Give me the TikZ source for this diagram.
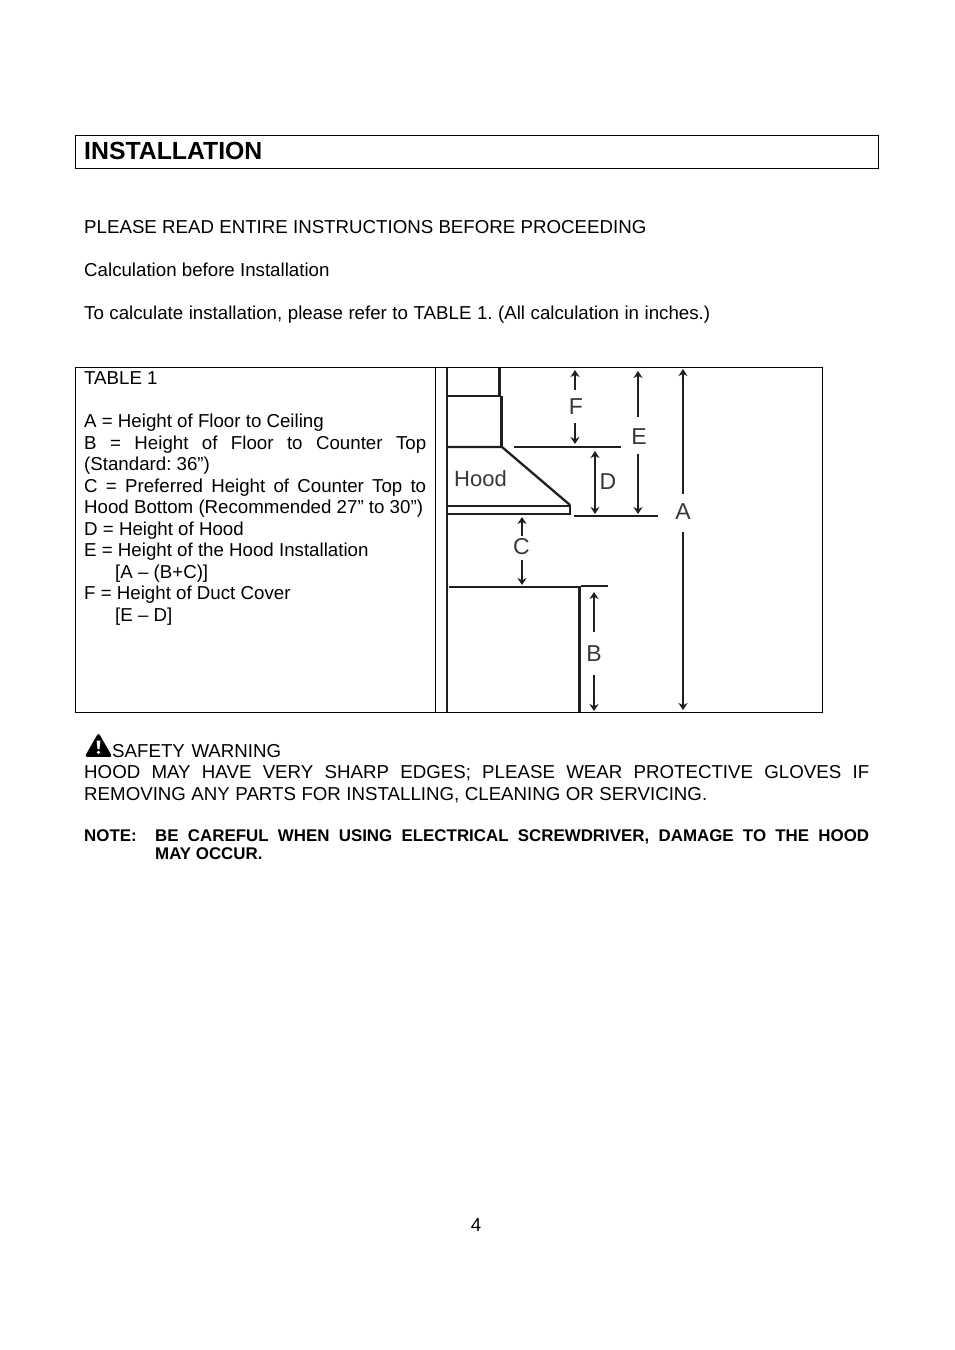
\documentclass[tikz,border=0pt]{standalone}
\usepackage{fontspec}
\setmainfont{Liberation Sans}
\usetikzlibrary{arrows.meta}
\tikzset{
  txt/.style={anchor=base west,inner sep=0pt,font=\fontsize{18.7}{21.4}\selectfont},
  notetxt/.style={anchor=base west,inner sep=0pt,font=\fontsize{16.9}{18}\selectfont\bfseries},
  frame/.style={draw=black,line width=1pt},
  wall/.style={draw=black!88,line width=2.3pt},
  thin wall/.style={draw=black!88,line width=2pt},
  lab/.style={inner sep=0pt,text=black!78,font=\fontsize{23}{23}\selectfont},
  dimup/.style={draw=black!88,line width=1.8pt,{Stealth[length=7pt,width=9pt]}-},
  dimdn/.style={draw=black!88,line width=1.8pt,-{Stealth[length=7pt,width=9pt]}},
}
\newcommand{\jl}[2]{\makebox[#1pt][s]{#2}}
\frenchspacing
\begin{document}
\begin{tikzpicture}[x=1pt,y=-1pt]
\useasboundingbox (0,0) rectangle (954,1350);
\fill[white] (0,0) rectangle (954,1350);
% heading
\draw[frame] (75.5,135.5) rectangle (878.5,168.5);
\node[anchor=base west,inner sep=0pt,font=\fontsize{24.8}{28}\selectfont\bfseries] (title) at (84,159) {INSTALLATION};
\node[txt] (p1) at (84,233) {PLEASE READ ENTIRE INSTRUCTIONS BEFORE PROCEEDING};
\node[txt] (p2) at (84,276) {Calculation before Installation};
\node[txt] (p3) at (84,319) {\jl{626}{To calculate installation, please refer to TABLE 1. (All calculation in inches.)}};
% table
\draw[frame] (75.5,367.5) rectangle (822.5,712.5);
\draw[frame] (435.5,367.5) -- (435.5,712.5);
\node[txt] (t0) at (84,384.5) {TABLE 1};
\node[txt] (t1) at (84,427) {A = Height of Floor to Ceiling};
\node[txt] (t2) at (84,449) {\jl{342}{B = Height of Floor to Counter Top}};
\node[txt] (t3) at (84,470) {(Standard: 36”)};
\node[txt] (t4) at (84,492) {\jl{342}{C = Preferred Height of Counter Top to}};
\node[txt] (t5) at (84,513) {Hood Bottom (Recommended 27” to 30”)};
\node[txt] (t6) at (84,535) {D = Height of Hood};
\node[txt] (t7) at (84,556) {E = Height of the Hood Installation};
\node[txt] (t8) at (115,578) {[A – (B+C)]};
\node[txt] (t9) at (84,599) {F = Height of Duct Cover};
\node[txt] (t10) at (115,621) {[E – D]};
% hood drawing
\draw[wall] (447,368) -- (447,712);
\draw[wall] (499.5,368) -- (499.5,396) (447,396) -- (499.5,396);
\draw[wall] (501.5,396) -- (501.5,447);
\draw[wall] (447,447) -- (502,447) -- (570,505);
\draw[wall] (447,506) -- (570,506) -- (570,514) -- (447,514);
\draw[wall] (449,587) -- (579.5,587) -- (579.5,712);
\draw[thin wall] (514,446.5) -- (621,446.5);
\draw[thin wall] (574,515.5) -- (658,515.5);
\draw[thin wall] (581,586) -- (608,586);
\node[lab,anchor=base west,font=\fontsize{22}{22}\selectfont] (hood) at (454,486) {Hood};
% dimension labels and their ends
\node[lab] (F) at (576,406.5) {F};
\node[lab] (E) at (639,437) {E};
\node[lab] (D) at (608,482) {D};
\node[lab] (A) at (683,512) {A};
\node[lab] (C) at (521.5,547) {C};
\node[lab] (B) at (594,654) {B};
\coordinate (F1) at (575,370); \coordinate (F2) at (575,390);
\coordinate (F3) at (575,423); \coordinate (F4) at (575,444);
\coordinate (E1) at (638,371); \coordinate (E2) at (638,417);
\coordinate (E3) at (638,454); \coordinate (E4) at (638,514);
\coordinate (A1) at (683,369); \coordinate (A2) at (683,494);
\coordinate (A3) at (683,532); \coordinate (A4) at (683,710);
\coordinate (C1) at (522,517); \coordinate (C2) at (522,536);
\coordinate (C3) at (522,560); \coordinate (C4) at (522,585);
\coordinate (B1) at (594,592); \coordinate (B2) at (594,632);
\coordinate (B3) at (594,675); \coordinate (B4) at (594,711);
\coordinate (D1) at (595,451); \coordinate (D2) at (595,514);
\draw[dimup] (F1) -- (F2); \draw[dimdn] (F3) -- (F4);
\draw[dimup] (E1) -- (E2); \draw[dimdn] (E3) -- (E4);
\draw[dimup] (A1) -- (A2); \draw[dimdn] (A3) -- (A4);
\draw[dimup] (C1) -- (C2); \draw[dimdn] (C3) -- (C4);
\draw[dimup] (B1) -- (B2); \draw[dimdn] (B3) -- (B4);
\draw[draw=black!88,line width=1.8pt,{Stealth[length=7pt,width=9pt]}-{Stealth[length=7pt,width=9pt]}] (D1) -- (D2);
% warning
\fill[black,draw=black,line width=2.8pt,line join=round] (98.5,735.5) -- (110,755.5) -- (87,755.5) -- cycle;
\fill[white] (96.6,740.5) -- (100.4,740.5) -- (99.5,749) -- (97.5,749) -- cycle;
\fill[white] (98.5,752.3) circle (1.8);
\node[txt] (w0) at (112,757) {\jl{169}{SAFETY WARNING}};
\node[txt] (w1) at (84,778) {\jl{785}{HOOD MAY HAVE VERY SHARP EDGES; PLEASE WEAR PROTECTIVE GLOVES IF}};
\node[txt] (w2) at (84,800) {\jl{623}{REMOVING ANY PARTS FOR INSTALLING, CLEANING OR SERVICING.}};
\node[notetxt] (n0) at (84,841) {NOTE:};
\node[notetxt] (n1) at (155,841) {\jl{714}{BE CAREFUL WHEN USING ELECTRICAL SCREWDRIVER, DAMAGE TO THE HOOD}};
\node[notetxt] (n2) at (155,859) {MAY OCCUR.};
\node[txt,anchor=base] (pg) at (476,1231) {4};
\end{tikzpicture}
\end{document}
